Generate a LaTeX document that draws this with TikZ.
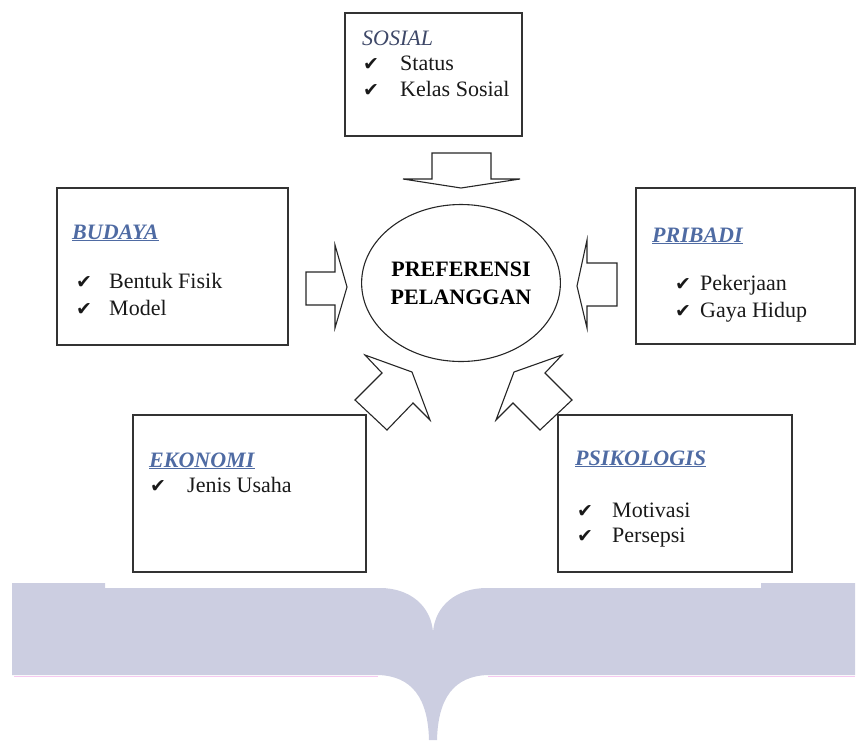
\documentclass[tikz,border=0pt]{standalone}
\usepackage{fontspec}
\usetikzlibrary{shapes.geometric}
\setmainfont{Liberation Serif}
\newfontfamily\cekfont{DejaVu Sans}

\definecolor{judulbiru}{RGB}{79,107,163}
\definecolor{sosialbiru}{RGB}{62,72,104}
\definecolor{logoungu}{RGB}{204,206,225}
\definecolor{logopink}{RGB}{246,200,240}

\newcommand\judul[1]{\textcolor{judulbiru}{\underline{\textbf{\textit{#1}}}}}
\newcommand\butir[2]{\makebox[#1][l]{\cekfont\fontsize{19}{19}\selectfont ✔}#2}

\tikzset{
  kotak/.style={draw=black!80, line width=1.1pt, rectangle, inner sep=0pt},
  teks/.style={inner sep=0pt, anchor=base west, text=black!90, font=\fontsize{22}{26}\selectfont},
  panah/.style={draw=black!85, line width=1.1pt, fill=white, line join=miter},
}

\begin{document}
\begin{tikzpicture}[x=1pt, y=-1pt]
        \useasboundingbox (0,0) rectangle (857,740);

        % logo latar
        \fill[logoungu] (12,583) -- (105,583) -- (105,588) -- (380,588)
            .. controls (410,588) and (431,606) .. (433,632)
            .. controls (435,606) and (456,588) .. (487,588)
            -- (761,588) -- (761,583) -- (855,583) -- (855,675) -- (488,675)
            .. controls (454,676) and (438,698) .. (437,740) -- (429,740)
            .. controls (428,698) and (412,676) .. (378,675) -- (12,675) -- cycle;
        \draw[logopink, line width=1.2pt] (14,676.5) -- (378,676.5);
        \draw[logopink, line width=1.2pt] (488,676.5) -- (855,676.5);

        % kotak
        \node[kotak, minimum width=177pt, minimum height=123pt] (sosial) at (433.5,74.5) {};
        \node[kotak, minimum width=231pt, minimum height=157pt] (budaya) at (172.5,266.5) {};
        \node[kotak, minimum width=219pt, minimum height=156pt] (pribadi) at (745.5,266) {};
        \node[kotak, minimum width=233pt, minimum height=157pt] (ekonomi) at (249.5,493.5) {};
        \node[kotak, minimum width=234pt, minimum height=157pt] (psikologis) at (675,493.5) {};

        % pusat
        \node[draw=black!85, line width=1.1pt, ellipse, minimum width=193pt, minimum height=157pt,
              inner sep=0pt, align=center, font=\fontsize{22}{28}\selectfont\bfseries] (pusat) at (461,283)
              {PREFERENSI\\PELANGGAN};

        % panah blok
        \draw[panah] (432,153) -- (491,153) -- (491,179) -- (520,179) -- (461,188) -- (403,179) -- (432,179) -- cycle;
        \draw[panah] (306,272) -- (335,272) -- (335,245) -- (347,287) -- (335,328) -- (335,305) -- (306,305) -- cycle;
        \draw[panah] (617,263) -- (587,263) -- (587,240) -- (577,286) -- (587,328) -- (587,306) -- (617,306) -- cycle;
        \draw[panah] (365,355) -- (412,372) -- (430,420) -- (413,403) -- (387,430) -- (355,400) -- (382,373) -- cycle;
        \draw[panah] (562,355) -- (514,372) -- (496,420) -- (513,403) -- (540,430) -- (572,400) -- (545,373) -- cycle;

        % isi kotak
        \node[teks] (sosial-judul) at (362,45) {\textcolor{sosialbiru}{\textit{SOSIAL}}};
        \node[teks] (sosial-a) at (363,70) {\butir{37pt}{Status}};
        \node[teks] (sosial-b) at (363,96) {\butir{37pt}{Kelas Sosial}};

        \node[teks] (budaya-judul) at (72,239) {\judul{BUDAYA}};
        \node[teks] (budaya-a) at (76,288) {\butir{33pt}{Bentuk Fisik}};
        \node[teks] (budaya-b) at (76,315) {\butir{33pt}{Model}};

        \node[teks] (pribadi-judul) at (652,242) {\judul{PRIBADI}};
        \node[teks] (pribadi-a) at (675,290) {\butir{25pt}{Pekerjaan}};
        \node[teks] (pribadi-b) at (675,317) {\butir{25pt}{Gaya Hidup}};

        \node[teks] (ekonomi-judul) at (149,467) {\judul{EKONOMI}};
        \node[teks] (ekonomi-a) at (150,492) {\butir{37pt}{Jenis Usaha}};

        \node[teks] (psikologis-judul) at (575,465) {\judul{PSIKOLOGIS}};
        \node[teks] (psikologis-a) at (577,517) {\butir{35pt}{Motivasi}};
        \node[teks] (psikologis-b) at (577,542) {\butir{35pt}{Persepsi}};
    \end{tikzpicture}
\end{document}
